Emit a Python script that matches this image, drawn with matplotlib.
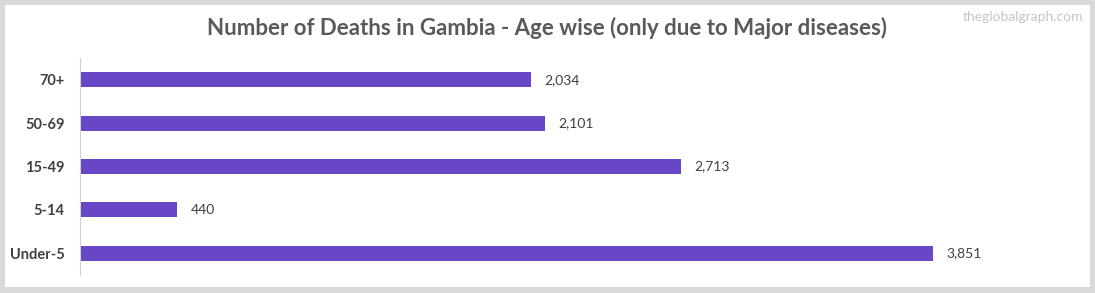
import matplotlib
matplotlib.use("Agg")
from matplotlib import pyplot as plt
from matplotlib.patches import Rectangle

categories = ["Under-5", "5-14", "15-49", "50-69", "70+"]
deaths = [3851, 440, 2713, 2101, 2034]

plt.rcParams["font.family"] = ["Lato", "DejaVu Sans"]

fig = plt.figure(figsize=(10.95, 2.93), dpi=100)
W, H = 1095, 293

# grey frame around the chart
fig.patches.append(Rectangle((0, 0), 1, 1, transform=fig.transFigure,
                             facecolor="#d9d9d9", edgecolor="none", zorder=-2))
fig.patches.append(Rectangle((5 / W, 1 - 287 / H), 1085 / W, 282 / H,
                             transform=fig.transFigure, facecolor="white",
                             edgecolor="none", zorder=-1))

ax = fig.add_axes([80 / W, 1 - 275 / H, 997 / W, 217 / H])
ax.set_facecolor("none")
ax.barh(range(len(categories)), deaths, height=0.35, color="#6747c6")
ax.set_xlim(0, 4500)
ax.set_ylim(-0.5, len(categories) - 0.5)
ax.set_yticks(range(len(categories)))
ax.set_yticklabels(categories, fontsize=10.5, fontweight="bold", color="#404040")
ax.tick_params(axis="y", length=0, pad=11)
ax.set_xticks([])
for s in ["top", "right", "bottom"]:
    ax.spines[s].set_visible(False)
ax.spines["left"].set_color("#d0d0d0")

for i, v in enumerate(deaths):
    ax.text(v + 60, i, f"{v:,}", va="center", ha="left", fontsize=10, color="#404040")

fig.text(547 / W, 1 - 28 / H, "Number of Deaths in Gambia - Age wise (only due to Major diseases)",
         ha="center", va="center", fontsize=16, fontweight="bold", color="#595959")
fig.text(1083 / W, 1 - 17 / H, "theglobalgraph.com", ha="right", va="center",
         fontsize=10, color="#c4c4cc")

fig.savefig("out.png", dpi=100)
